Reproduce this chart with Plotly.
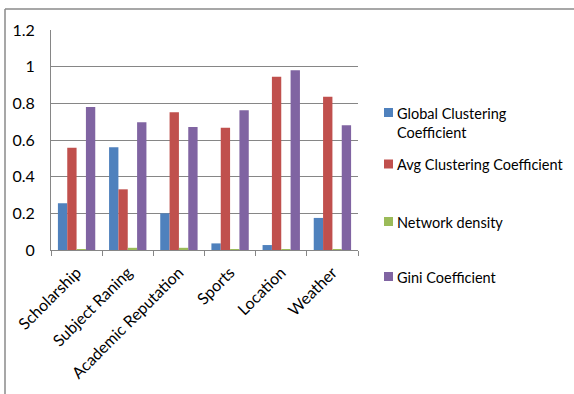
import plotly.graph_objects as go

# Categories and metric values
categories = ["Scholarship", "Subject Raning", "Academic Reputation", "Sports", "Location", "Weather"]
global_clustering = [0.255, 0.56, 0.20, 0.036, 0.027, 0.175]
avg_clustering = [0.558, 0.331, 0.751, 0.667, 0.945, 0.836]
network_density = [0.005, 0.012, 0.012, 0.004, 0.004, 0.004]
gini = [0.78, 0.697, 0.671, 0.762, 0.98, 0.68]

series_names = ["Global Clustering<br>Coefficient", "Avg Clustering Coefficient",
                "Network density", "Gini Coefficient"]
series_values = [global_clustering, avg_clustering, network_density, gini]
series_colors = ["#4F81BD", "#C0504D", "#9BBB59", "#8064A2"]

y_ticks = [0, 0.2, 0.4, 0.6, 0.8, 1, 1.2]
y_tick_text = ["0", "0.2", "0.4", "0.6", "0.8", "1", "1.2"]

FONT = "Lato"
W, H = 574, 394
L, R, T, B = 51, 216, 30, 144

fig = go.Figure()
for name, vals, col in zip(series_names, series_values, series_colors):
    fig.add_trace(go.Bar(
        x=categories, y=vals, name=name.replace("<br>", " "),
        marker=dict(color=col, line=dict(width=0)),
        showlegend=False,
    ))

plot_w = W - L - R
plot_h = H - T - B

def px_x(p):
    return (p - L) / plot_w

def px_y(p):
    return (H - B - p) / plot_h

# outer chart frame (top and left edges)
frame = dict(color="#8a8a8a", width=1.5)
fig.add_shape(type="line", xref="paper", yref="paper",
              x0=px_x(5), x1=px_x(W + 5), y0=px_y(9), y1=px_y(9), line=frame)
fig.add_shape(type="line", xref="paper", yref="paper",
              x0=px_x(5), x1=px_x(5), y0=px_y(9), y1=px_y(H + 5), line=frame)

# legend on the right: colour square + label, one row per series
legend_rows = [112.5, 164, 221.5, 276.5]   # vertical centre of each key square (px)
SQ = 9
for name, col, cy in zip(series_names, series_colors, legend_rows):
    fig.add_shape(type="rect", xref="paper", yref="paper",
                  x0=px_x(384), x1=px_x(384 + SQ),
                  y0=px_y(cy + SQ / 2), y1=px_y(cy - SQ / 2),
                  fillcolor=col, line=dict(width=0))
    n_lines = name.count("<br>") + 1
    fig.add_annotation(
        xref="paper", yref="paper", x=px_x(395), y=px_y(cy - 10),
        xanchor="left", yanchor="top", align="left", showarrow=False,
        text=name, font=dict(family=FONT, size=14.5, color="#000000"),
    )

fig.update_layout(
    width=W, height=H,
    margin=dict(l=L, r=R, t=T, b=B, autoexpand=False),
    paper_bgcolor="white", plot_bgcolor="white",
    barmode="group", bargap=0.27, bargroupgap=0,
    font=dict(family=FONT, size=16, color="#000000"),
    showlegend=False,
    xaxis=dict(
        type="category", tickangle=-45, showgrid=False,
        showline=True, linecolor="#868686", linewidth=1,
        ticks="outside", tickson="boundaries", ticklen=5, tickcolor="#868686",
        ticklabelstandoff=6,
        tickfont=dict(family=FONT, size=16),
    ),
    yaxis=dict(
        range=[0, 1.2], tickvals=y_ticks, ticktext=y_tick_text,
        showgrid=True, gridcolor="#868686", gridwidth=1,
        showline=True, linecolor="#868686", linewidth=1,
        ticks="", ticklabelstandoff=12,
        zeroline=False, tickfont=dict(family=FONT, size=16),
    ),
)

fig.write_html("out.html")
